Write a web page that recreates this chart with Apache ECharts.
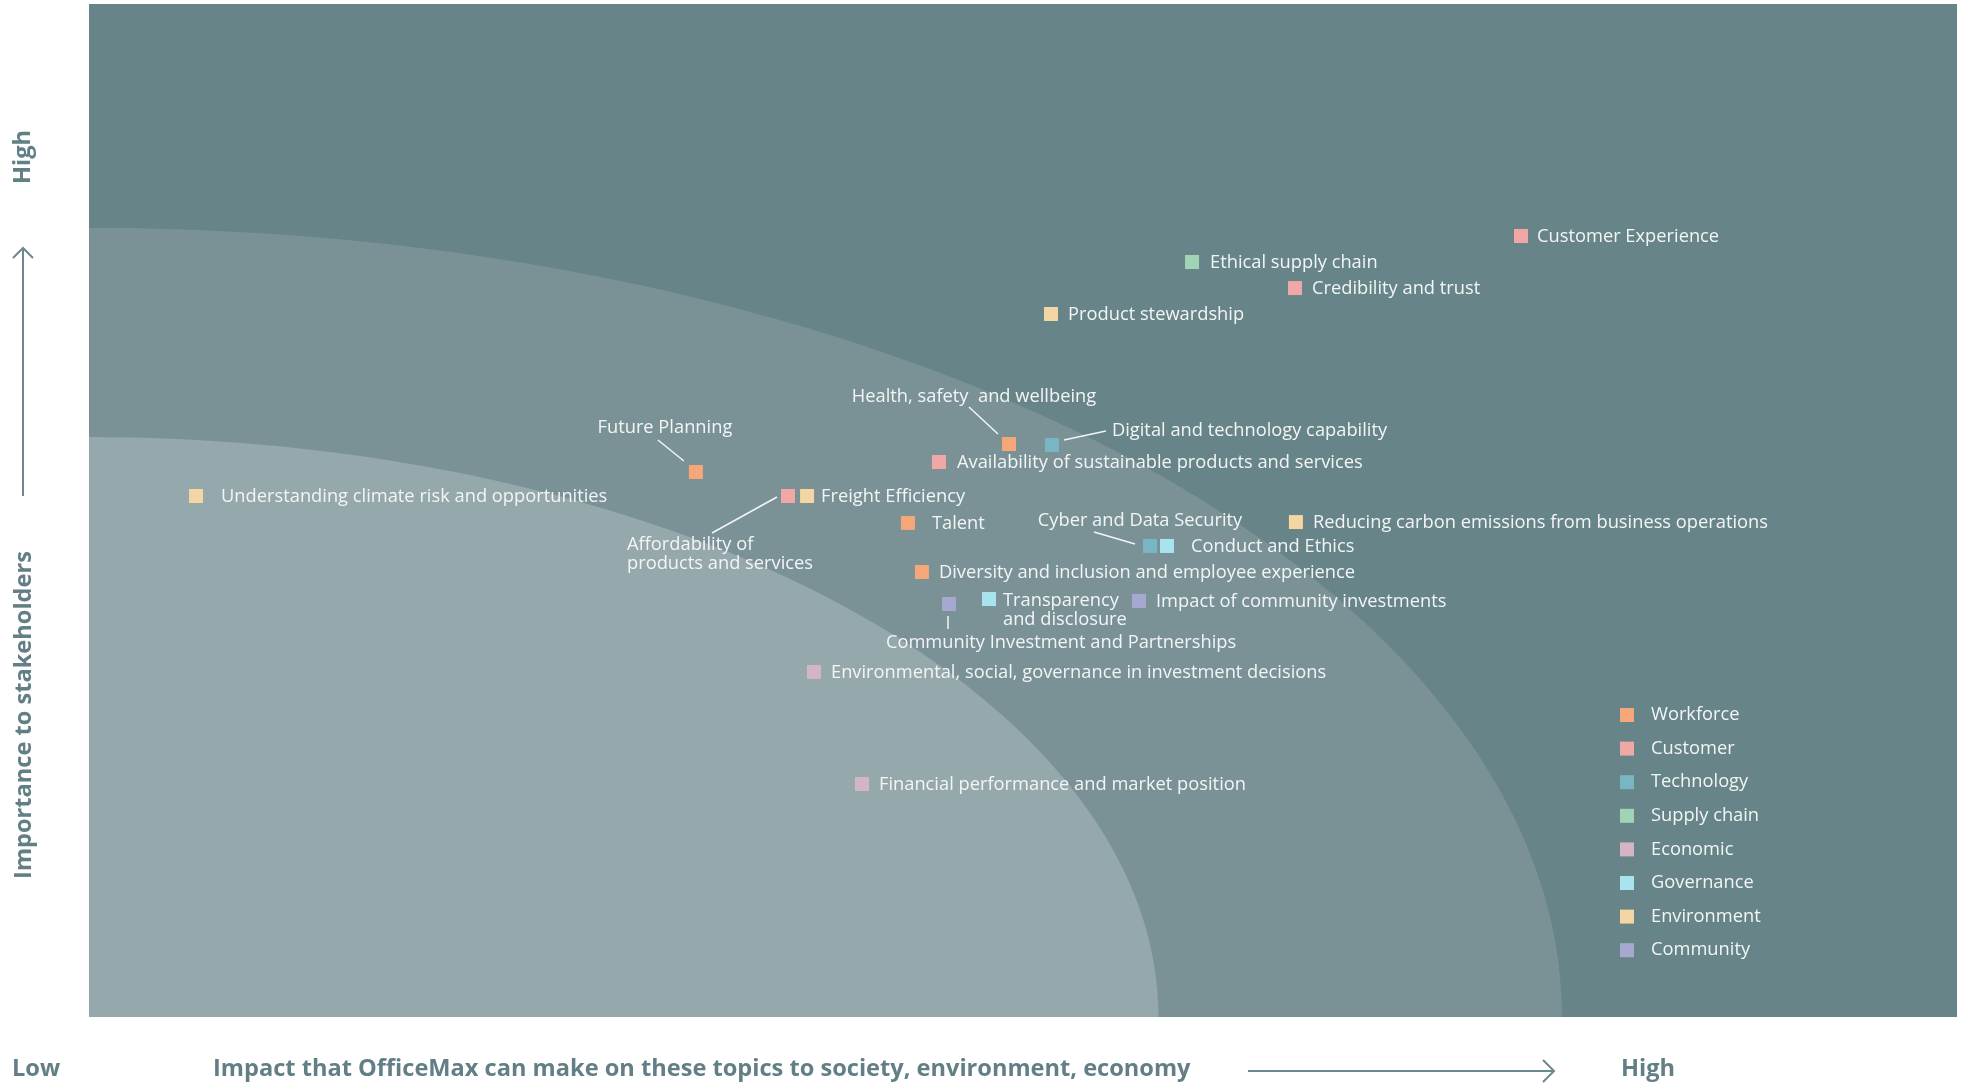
<!DOCTYPE html>
<html><head><meta charset="utf-8">
<script src="https://cdn.jsdelivr.net/npm/echarts@6/dist/echarts.min.js"></script>
<style>html,body{margin:0;padding:0;background:#fff;}#chart{width:1966px;height:1085px;}</style>
</head><body><div id="chart"></div>
<script>
// ---------- data ----------
const categories = ['Workforce','Customer','Technology','Supply chain','Economic','Governance','Environment','Community'];
const topicNames = [
  'Customer Experience','Ethical supply chain','Credibility and trust','Product stewardship',
  'Health, safety  and wellbeing','Digital and technology capability','Availability of sustainable products and services',
  'Future Planning','Understanding climate risk and opportunities','Affordability of\nproducts and services',
  'Freight Efficiency','Talent','Cyber and Data Security','Conduct and Ethics',
  'Reducing carbon emissions from business operations','Diversity and inclusion and employee experience',
  'Transparency\nand disclosure','Community Investment and Partnerships','Impact of community investments',
  'Environmental, social, governance in investment decisions','Financial performance and market position'
];
const topicCategory = [
  'Customer','Supply chain','Customer','Environment',
  'Workforce','Technology','Customer',
  'Workforce','Environment','Customer',
  'Environment','Workforce','Technology','Governance',
  'Environment','Workforce',
  'Governance','Community','Community',
  'Economic','Economic'
];
// impact on society/environment/economy (x, 0-100)
const impactValues = [76.66,59.05,64.56,51.50,49.25,51.55,45.50,32.49,5.73,37.42,38.44,43.84,56.80,57.71,64.61,44.59,48.18,46.04,56.21,38.81,41.38];
// importance to stakeholders (y, 0-100)
const importanceValues = [77.10,74.53,71.96,69.40,56.56,56.47,54.79,53.80,51.43,51.43,51.43,48.77,46.50,46.50,48.86,43.93,41.26,40.77,41.07,34.06,23.00];
// materiality zone boundaries (quarter ellipses from origin)
const zoneRadiusX = [78.85, 57.25];
const zoneRadiusY = [77.9, 57.25];

// ---------- styles ----------
const catColors = {
  'Workforce':'#f5a77a','Customer':'#f0a8a6','Technology':'#79b6c3','Supply chain':'#a2d3b4',
  'Economic':'#d5b4c4','Governance':'#a8e4f0','Environment':'#f3d6a4','Community':'#a6a8d1'
};
const zoneColors = ['#7a9296','#95a8ab'];
const labelFill = '#f3f5f5';
const titleColor = '#627f85';
// label placement, pixel offsets relative to marker centre
const labelLayout = {
  'Customer Experience':{dx:16},
  'Ethical supply chain':{dx:18},
  'Product stewardship':{dx:17},
  'Health, safety  and wellbeing':{dx:-35,dy:-48,align:'center',leader:[-40,-37,-11,-10]},
  'Digital and technology capability':{dx:60,dy:-15,leader:[12,-5,54,-14]},
  'Availability of sustainable products and services':{dx:18},
  'Future Planning':{dx:-31,dy:-45,align:'center',leader:[-38,-32,-12,-11]},
  'Understanding climate risk and opportunities':{dx:25},
  'Affordability of\nproducts and services':{dx:-161,dy:57.5,leader:[-76,37,-11,1]},
  'Freight Efficiency':{dx:14},
  'Talent':{dx:24},
  'Cyber and Data Security':{dx:-10,dy:-26,align:'center',leader:[-56,-14,-15,-2]},
  'Conduct and Ethics':{dx:24},
  'Transparency\nand disclosure':{dx:14,dy:10.5},
  'Community Investment and Partnerships':{dx:112,dy:38,align:'center',leader:[-1,12,-1,25]}
};

// ---------- build ----------
const chart = echarts.init(document.getElementById('chart'));

const scatterSeries = categories.map(cat => ({
  name: cat,
  type: 'scatter',
  symbol: 'rect',
  symbolSize: 14,
  z: 3,
  itemStyle: { color: catColors[cat], opacity: 1 },
  emphasis: { disabled: true },
  data: topicNames.map((n, i) => i).filter(i => topicCategory[i] === cat)
        .map(i => ({ name: topicNames[i], value: [impactValues[i], importanceValues[i]] }))
}));

const zoneSeries = {
  type: 'custom',
  name: 'zones',
  silent: true,
  z: 1,
  data: [[0, 0]],
  renderItem: function (params, api) {
    const children = zoneRadiusX.map((ax, k) => {
      const by = zoneRadiusY[k];
      const pts = [api.coord([0, 0])];
      for (let d = 0; d <= 90; d += 1) {
        const t = d * Math.PI / 180;
        pts.push(api.coord([ax * Math.cos(t), by * Math.sin(t)]));
      }
      return { type: 'polygon', shape: { points: pts }, style: { fill: zoneColors[k] } };
    });
    return { type: 'group', children: children };
  }
};

const labelSeries = {
  type: 'custom',
  name: 'labels',
  silent: true,
  z: 4,
  encode: { x: 0, y: 1 },
  data: topicNames.map((n, i) => [impactValues[i], importanceValues[i], i]),
  renderItem: function (params, api) {
    const p = api.coord([api.value(0), api.value(1)]);
    const idx = api.value(2);
    const name = topicNames[idx];
    const L = Object.assign({ dx: 17, dy: 0, align: 'left' }, labelLayout[name] || {});
    const children = [{
      type: 'text',
      x: p[0] + L.dx, y: p[1] + L.dy + 0.5,
      style: {
        text: name, fill: labelFill, fontSize: 18.3, fontFamily: 'Open Sans',
        align: L.align, verticalAlign: 'middle', lineHeight: 19
      }
    }];
    if (L.leader) {
      children.push({
        type: 'line',
        shape: { x1: p[0] + L.leader[0], y1: p[1] + L.leader[1], x2: p[0] + L.leader[2], y2: p[1] + L.leader[3] },
        style: { stroke: labelFill, lineWidth: 1.5 }
      });
    }
    return { type: 'group', children: children };
  }
};

const titleFont = { fontSize: 23.6, fontWeight: 'bold', fontFamily: 'Open Sans', fill: titleColor };
const arrowStyle = { stroke: '#6d898e', lineWidth: 2, fill: null };

chart.setOption({
  backgroundColor: '#ffffff',
  animation: false,
  grid: { left: 89, right: 9, top: 4, bottom: 68, show: true, backgroundColor: '#678489', borderWidth: 0 },
  xAxis: { type: 'value', min: 0, max: 100, axisLine: { show: false }, axisTick: { show: false }, axisLabel: { show: false }, splitLine: { show: false } },
  yAxis: { type: 'value', min: 0, max: 100, axisLine: { show: false }, axisTick: { show: false }, axisLabel: { show: false }, splitLine: { show: false } },
  legend: {
    data: categories,
    orient: 'vertical',
    left: 1620, top: 706,
    padding: 0,
    itemWidth: 14, itemHeight: 14, itemGap: 15.6,
    icon: 'rect',
    selectedMode: false,
    textStyle: { color: labelFill, fontSize: 18.3, fontFamily: 'Open Sans', padding: [0, 0, 0, 12] }
  },
  graphic: [
    { type: 'text', x: 24, y: 715, rotation: Math.PI / 2, style: Object.assign({ text: 'Importance to stakeholders', align: 'center', verticalAlign: 'middle' }, titleFont) },
    { type: 'text', x: 23, y: 157, rotation: Math.PI / 2, style: Object.assign({ text: 'High', align: 'center', verticalAlign: 'middle' }, titleFont) },
    { type: 'polyline', shape: { points: [[23, 496], [23, 248]] }, style: arrowStyle },
    { type: 'polyline', shape: { points: [[13, 258], [23, 248], [33, 258]] }, style: arrowStyle },
    { type: 'text', x: 12, y: 1069, style: Object.assign({ text: 'Low', align: 'left', verticalAlign: 'middle' }, titleFont) },
    { type: 'text', x: 213, y: 1069, style: Object.assign({ text: 'Impact that OfficeMax can make on these topics to society, environment, economy', align: 'left', verticalAlign: 'middle' }, titleFont) },
    { type: 'polyline', shape: { points: [[1248, 1071], [1554, 1071]] }, style: arrowStyle },
    { type: 'polyline', shape: { points: [[1543, 1060], [1554, 1071], [1543, 1082]] }, style: arrowStyle },
    { type: 'text', x: 1621, y: 1069, style: Object.assign({ text: 'High', align: 'left', verticalAlign: 'middle' }, titleFont) }
  ],
  series: [zoneSeries].concat(scatterSeries).concat([labelSeries])
});
</script>
</body></html>
